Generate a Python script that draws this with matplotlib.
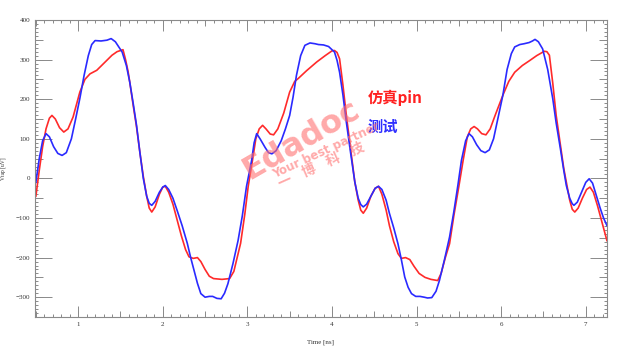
import matplotlib
matplotlib.use("Agg")
import matplotlib.pyplot as plt
from matplotlib.ticker import MultipleLocator

# 测试 (measured) waveform, time in ns
t_meas = [
    0.50, 0.54, 0.58, 0.62, 0.66, 0.71, 0.76, 0.81, 0.86, 0.92, 0.97, 1.02,
    1.07, 1.12, 1.16, 1.20, 1.27, 1.34, 1.39, 1.44, 1.52, 1.57, 1.61, 1.65,
    1.69, 1.73, 1.77, 1.81, 1.84, 1.87, 1.91, 1.96, 2.00, 2.03, 2.07, 2.12,
    2.17, 2.23, 2.29, 2.33, 2.37, 2.41, 2.45, 2.50, 2.55, 2.59, 2.64, 2.69,
    2.73, 2.77, 2.83, 2.89, 2.94, 2.99, 3.05, 3.08, 3.11,
    3.15, 3.21, 3.25, 3.29, 3.34, 3.40, 3.45, 3.50, 3.54, 3.58, 3.63, 3.68,
    3.74, 3.80, 3.84, 3.90, 3.96, 4.03, 4.06, 4.09, 4.13, 4.17, 4.22, 4.27,
    4.31, 4.34, 4.37, 4.41, 4.46, 4.51, 4.55, 4.59, 4.64, 4.68, 4.73, 4.78,
    4.82, 4.86, 4.90, 4.94, 4.99, 5.04, 5.09, 5.13, 5.18, 5.23, 5.27, 5.33,
    5.39, 5.44, 5.49, 5.53, 5.58, 5.62,
    5.66, 5.71, 5.76, 5.81, 5.86, 5.91, 5.96, 6.02, 6.07, 6.12, 6.16, 6.22,
    6.27, 6.33, 6.37, 6.40, 6.44, 6.49, 6.55, 6.61, 6.65, 6.70, 6.74, 6.77,
    6.81, 6.84, 6.86, 6.90, 6.95, 7.00, 7.04, 7.08, 7.12, 7.17, 7.21, 7.25,
]
v_meas = [
    -10, 50, 95, 113, 105, 80, 63, 58, 65, 100, 150, 202,
    260, 310, 338, 348, 347, 349, 353, 345, 319, 285, 243, 190,
    134, 65, 0, -45, -63, -68, -58, -35, -22, -18, -28, -50,
    -81, -120, -164, -200, -232, -265, -291, -300, -298, -298, -303, -304,
    -290, -266, -215, -157, -95, -20, 45, 90, 113,
    100, 78, 65, 62, 70, 95, 125, 159, 205, 260, 310, 336,
    342, 340, 338, 337, 333, 319, 298, 268, 210, 142, 65, -9,
    -50, -66, -72, -65, -45, -25, -20, -28, -55, -89, -125, -165,
    -205, -249, -275, -291, -298, -298, -300, -302, -301, -285, -258, -205,
    -148, -85, -15, 45, 95, 113,
    105, 85, 70, 65, 72, 100, 150, 210, 275, 315, 332, 338,
    340, 343, 347, 351, 345, 327, 275, 201, 140, 75, 20, -18,
    -50, -64, -68, -60, -35, -10, -1, -12, -40, -75, -100, -119,
]

# 仿真pin (simulated) waveform
t_sim = [
    0.50, 0.54, 0.58, 0.62, 0.66, 0.69, 0.73, 0.78, 0.83, 0.88, 0.94, 1.02,
    1.08, 1.14, 1.22, 1.30, 1.40, 1.46, 1.53, 1.56, 1.59, 1.61, 1.65, 1.69,
    1.73, 1.77, 1.81, 1.84, 1.87, 1.91, 1.96, 2.00, 2.03, 2.07, 2.12, 2.17,
    2.22, 2.27, 2.31, 2.36, 2.41, 2.45, 2.50, 2.55, 2.60, 2.70, 2.79, 2.84,
    2.88, 2.92, 2.97, 3.01, 3.06, 3.10, 3.14, 3.18,
    3.22, 3.27, 3.31, 3.36, 3.43, 3.50, 3.56, 3.60, 3.70, 3.82, 3.92, 4.00,
    4.03, 4.06, 4.09, 4.13, 4.17, 4.22, 4.27, 4.31, 4.34, 4.37, 4.41, 4.46,
    4.51, 4.55, 4.59, 4.64, 4.68, 4.73, 4.78, 4.82, 4.87, 4.92, 4.97, 5.03,
    5.10, 5.17, 5.25, 5.29, 5.34, 5.39, 5.44, 5.50, 5.55, 5.60, 5.64, 5.68,
    5.72, 5.77, 5.82, 5.87, 5.93, 6.02, 6.09, 6.16, 6.25, 6.34, 6.42, 6.51,
    6.54, 6.57, 6.61, 6.65, 6.70, 6.74, 6.77, 6.81, 6.84, 6.87, 6.91, 6.96,
    7.01, 7.05, 7.09, 7.14, 7.19, 7.25,
]
v_sim = [
    -45, 20, 80, 125, 152, 159, 150, 128, 117, 125, 155, 218,
    250, 264, 273, 290, 311, 320, 325, 300, 270, 243, 185, 130,
    65, 5, -45, -75, -85, -72, -40, -22, -20, -35, -65, -105,
    -145, -180, -198, -202, -200, -210, -230, -247, -253, -255, -253, -235,
    -200, -164, -90, -20, 45, 100, 125, 134,
    125, 112, 110, 125, 165, 218, 245, 252, 272, 294, 310, 322,
    323, 318, 302, 235, 159, 75, -9, -55, -80, -88, -75, -45,
    -25, -20, -40, -80, -120, -160, -190, -202, -200, -205, -222, -240,
    -250, -255, -258, -240, -200, -165, -95, -20, 45, 105, 125, 131,
    125, 113, 110, 125, 160, 210, 245, 268, 285, 298, 310, 321,
    320, 311, 240, 159, 85, 25, -9, -55, -78, -85, -75, -50,
    -28, -22, -35, -70, -110, -157,
]

x_range = (0.49, 7.25)
y_range = (-350, 400)

fig = plt.figure(figsize=(6.23, 3.5), dpi=100)
ax = fig.add_axes([0.0562, 0.0943, 0.918, 0.8486])

ax.plot(t_sim, v_sim, color="#ff2a2a", lw=1.2)
ax.plot(t_meas, v_meas, color="#2a2aff", lw=1.2)

ax.set_xlim(*x_range)
ax.set_ylim(*y_range)

frame = "#8a8a8a"
for s in ax.spines.values():
    s.set_color(frame)
    s.set_linewidth(0.8)

ax.xaxis.set_major_locator(MultipleLocator(1))
ax.xaxis.set_minor_locator(MultipleLocator(0.1))
ax.yaxis.set_major_locator(MultipleLocator(100))
ax.yaxis.set_minor_locator(MultipleLocator(10))
ax.tick_params(which="both", direction="in", top=True, right=True, color=frame,
               labelsize=5, labelcolor="#333333", width=0.7)
ax.tick_params(which="major", length=8)
ax.tick_params(which="minor", length=2)
ax.tick_params(axis="y", which="major", length=12)
for lab in ax.get_xticklabels() + ax.get_yticklabels():
    lab.set_family("Liberation Serif")

# medium ticks at the half steps
for side in ("bottom", "top"):
    sec = ax.secondary_xaxis(side)
    sec.xaxis.set_major_locator(MultipleLocator(0.5))
    sec.tick_params(direction="in", length=4, color=frame, width=0.7, labelbottom=False, labeltop=False)
    sec.spines[side].set_visible(False)
for side in ("left", "right"):
    sec = ax.secondary_yaxis(side)
    sec.yaxis.set_major_locator(MultipleLocator(50))
    sec.tick_params(direction="in", length=6, color=frame, width=0.7, labelleft=False, labelright=False)
    sec.spines[side].set_visible(False)

ax.set_xlabel("Time [ns]", fontsize=5, family="Liberation Serif", color="#333333", labelpad=9)
ax.set_ylabel("Vtap [uV]", fontsize=4, family="Liberation Serif", color="#333333", labelpad=7)

# legend-like labels
cjk = ["Noto Sans CJK SC", "DejaVu Sans"]
ax.text(0.582, 0.737, "仿真pin", transform=ax.transAxes, color="#ff2020",
        fontsize=11, fontweight="bold", family=cjk, va="center")
ax.text(0.582, 0.64, "测试", transform=ax.transAxes, color="#3030ff",
        fontsize=11, fontweight="bold", family=cjk, va="center")

# watermark
wm = "#ff7070"
ax.text(0.465, 0.595, "Edadoc", transform=ax.transAxes, color=wm, alpha=0.6,
        fontsize=23, fontweight="bold", rotation=30, family="DejaVu Sans",
        ha="center", va="center")
ax.text(0.51, 0.56, "Your best partner", transform=ax.transAxes, color=wm, alpha=0.6,
        fontsize=8.5, fontweight="bold", rotation=25, family="DejaVu Sans",
        ha="center", va="center")
ax.text(0.50, 0.51, "一    博    科    技", transform=ax.transAxes, color=wm, alpha=0.6,
        fontsize=10, fontweight="bold", rotation=24, family=cjk,
        ha="center", va="center")

fig.savefig("out.png", dpi=100)
